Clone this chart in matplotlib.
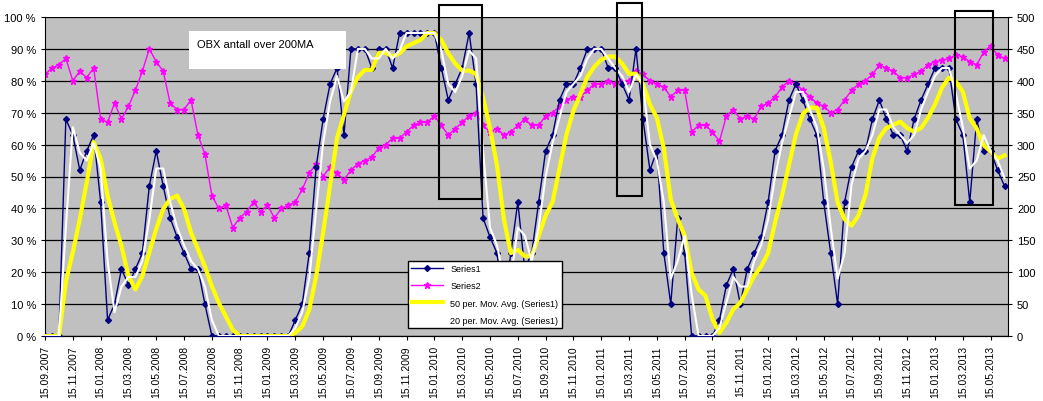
import matplotlib
matplotlib.use("Agg")
import matplotlib.pyplot as plt
import numpy as np
import pandas as pd
from matplotlib.patches import Rectangle

plt.rcParams["font.family"] = "Liberation Sans"

# half-monthly samples starting 15.09.2007
series1 = [0, 0, 0, 68, 63, 52, 58, 63, 42, 5, 10, 21, 16, 21, 26, 47, 58, 47, 37, 31,
           26, 21, 21, 10, 0, 0, 0, 0, 0, 0, 0, 0, 0, 0, 0, 0, 5, 10, 26, 53,
           68, 79, 84, 63, 90, 90, 90, 84, 90, 90, 84, 95, 95, 95, 95, 95, 95, 84, 74, 79,
           84, 95, 79, 37, 31, 26, 10, 26, 42, 21, 26, 42, 58, 63, 74, 79, 79, 84, 90, 90,
           90, 84, 84, 79, 74, 90, 68, 52, 58, 26, 10, 37, 26, 0, 0, 0, 0, 5, 16, 21,
           10, 21, 26, 31, 42, 58, 63, 74, 79, 74, 68, 63, 42, 26, 10, 42, 53, 58, 58, 68,
           74, 68, 63, 63, 58, 68, 74, 79, 84, 84, 84, 68, 63, 42, 68, 58, 58, 52, 47]
series2 = [410, 420, 425, 435, 400, 415, 405, 420, 340, 335, 365, 340, 360, 385, 415, 450, 430, 415, 365, 355,
           355, 370, 315, 285, 220, 200, 205, 170, 185, 195, 210, 195, 205, 185, 200, 205, 210, 230, 255, 270,
           250, 265, 255, 245, 260, 270, 275, 280, 295, 300, 310, 310, 320, 330, 335, 335, 345, 330, 315, 325,
           335, 345, 350, 330, 320, 325, 315, 320, 330, 340, 330, 330, 345, 350, 360, 370, 375, 375, 385, 395,
           395, 400, 395, 400, 400, 415, 410, 400, 395, 390, 375, 385, 385, 320, 330, 330, 320, 305, 345, 355,
           340, 345, 340, 360, 365, 375, 390, 400, 395, 385, 375, 365, 360, 350, 355, 370, 385, 395, 400, 410,
           425, 420, 415, 405, 405, 410, 415, 425, 430, 432, 435, 440, 438, 430, 425, 445, 455, 440, 435]
tick_labels = []
for y in range(2007, 2014):
    for m in (1, 3, 5, 7, 9, 11):
        if (y == 2007 and m < 9) or (y == 2013 and m > 5):
            continue
        tick_labels.append(f"15.{m:02d}.{y}")

t = np.arange(len(series1))
s1 = pd.Series(series1, dtype=float)
ma50 = s1.rolling(5, min_periods=1).mean()
ma20 = s1.rolling(2, min_periods=1).mean()

fig = plt.figure(figsize=(10.43, 4.02), dpi=100)
ax = fig.add_axes([45/1043, 65/402, 963/1043, 319/402])
ax.set_xlim(0, 138.5)
ax.set_ylim(0, 100)
ax.set_yticks(range(0, 101, 10))
ax.set_yticklabels([f"{v} %" for v in range(0, 101, 10)], fontsize=8)
ax.set_xticks(np.arange(0, len(tick_labels) * 4, 4))
ax.set_xticklabels(tick_labels, rotation=90, fontsize=7.5)
ax.tick_params(length=3)
for sp in ("top", "right"):
    ax.spines[sp].set_visible(False)

ax2 = ax.twinx()
ax2.set_ylim(0, 500)
ax2.set_yticks(range(0, 501, 50))
ax2.tick_params(labelsize=8, length=3)
ax2.yaxis.grid(True, color="black", lw=0.9)
ax2.set_axisbelow(True)
for sp in ("top", "left"):
    ax2.spines[sp].set_visible(False)

l2, = ax2.plot(t, series2, color="#FF00FF", marker="*", ms=5, lw=1, label="Series2")
ax.set_zorder(ax2.get_zorder() + 1)
ax.patch.set_visible(False)
ax2.patch.set_visible(True)
ax2.patch.set_facecolor("#C0C0C0")
l1, = ax.plot(t, series1, color="#000080", marker="D", ms=3, lw=1, label="Series1", zorder=3)
l3, = ax.plot(t, ma50, color="#FFFF00", lw=3, label="50 per. Mov. Avg. (Series1)", zorder=4)
l4, = ax.plot(t, ma20, color="white", lw=1.5, label="20 per. Mov. Avg. (Series1)", zorder=4)

for (x0, x1, y0, y1) in [(56.6, 62.9, 43, 103.8), (82.3, 85.9, 43.9, 104.4), (130.9, 136.3, 41, 101.9)]:
    ax.add_patch(Rectangle((x0, y0), x1 - x0, y1 - y0, fill=False, ec="black", lw=1.5,
                           clip_on=False, zorder=6))

ax.text(0.158, 0.93, "OBX antall over 200MA        \n ", transform=ax.transAxes, fontsize=8,
        va="top", bbox=dict(fc="white", ec="none", pad=6), zorder=7)

leg = ax.legend(handles=[l1, l2, l3, l4], loc="upper left", bbox_to_anchor=(0.372, 0.25),
                fontsize=6.5, frameon=True, fancybox=False, edgecolor="black", framealpha=1,
                handlelength=3.5, labelspacing=0.9)
leg.set_zorder(8)

fig.savefig("out.png", dpi=100)
